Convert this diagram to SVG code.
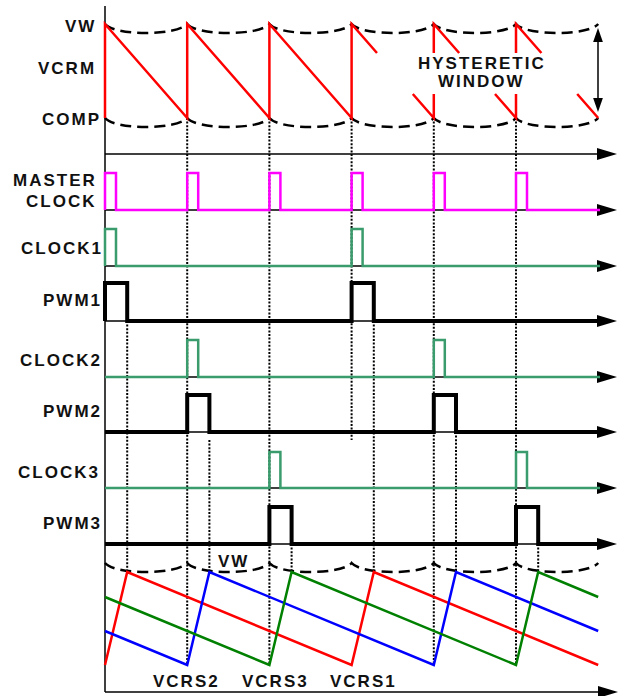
<svg xmlns="http://www.w3.org/2000/svg" width="620" height="696" viewBox="0 0 620 696">
<defs>
<style>
.lbl{font-family:"Liberation Sans",Arial,sans-serif;font-weight:bold;font-size:17px;letter-spacing:2px;fill:#111}
.axis{stroke:#000;stroke-width:1.5;fill:none}
.arr{marker-end:url(#ah)}
.dash{stroke:#000;stroke-width:2.5;fill:none;stroke-dasharray:11 6}
.dot{stroke:#000;stroke-width:2;fill:none;stroke-dasharray:2 1.6}
.red{stroke:#ff0000;stroke-width:2.5;fill:none}
.blue{stroke:#0000ff;stroke-width:2.5;fill:none}
.grn{stroke:#008000;stroke-width:2.5;fill:none}
.mag{stroke:#ff00ff;stroke-width:2.5;fill:none;stroke-linejoin:miter}
.clk{stroke:#3a9c6c;stroke-width:2.5;fill:none;stroke-linejoin:miter}
.pwm{stroke:#000;stroke-width:4;fill:none;stroke-linejoin:miter}
</style>
<marker id="ah" markerUnits="userSpaceOnUse" markerWidth="20" markerHeight="12" refX="3" refY="6" orient="auto" viewBox="0 0 20 12">
<path d="M0,0 L20,6 L0,12 z" fill="#000"/>
</marker>
<marker id="ah2" markerUnits="userSpaceOnUse" markerWidth="14" markerHeight="20" refX="3" refY="7" orient="auto-start-reverse" viewBox="0 0 20 14">
<path d="M0,0 L20,7 L0,14 z" fill="#000"/>
</marker>
</defs>

<g id="labels">
<text class="lbl" x="65" y="32">VW</text>
<text class="lbl" x="38" y="74">VCRM</text>
<text class="lbl" x="42" y="125">COMP</text>
<text class="lbl" x="13" y="186">MASTER</text>
<text class="lbl" x="26" y="207">CLOCK</text>
<text class="lbl" x="21" y="254">CLOCK1</text>
<text class="lbl" x="43" y="306">PWM1</text>
<text class="lbl" x="20" y="366">CLOCK2</text>
<text class="lbl" x="43" y="417">PWM2</text>
<text class="lbl" x="18" y="478">CLOCK3</text>
<text class="lbl" x="43" y="529">PWM3</text>
</g>

<g id="connectors">
<line class="dot" x1="187.2" y1="118" x2="187.2" y2="665"/>
<line class="dot" x1="269.4" y1="118" x2="269.4" y2="665"/>
<line class="dot" x1="351.6" y1="118" x2="351.6" y2="440"/>
<line class="dot" x1="433.8" y1="118" x2="433.8" y2="665"/>
<line class="dot" x1="516" y1="118" x2="516" y2="665"/>
<line class="dot" x1="127.2" y1="321" x2="127.2" y2="572"/>
<line class="dot" x1="209.4" y1="440" x2="209.4" y2="572"/>
<line class="dot" x1="291.6" y1="544" x2="291.6" y2="572"/>
<line class="dot" x1="373.8" y1="321" x2="373.8" y2="572"/>
<line class="dot" x1="456" y1="432" x2="456" y2="572"/>
<line class="dot" x1="538.2" y1="544" x2="538.2" y2="572"/>
</g>

<g id="axes">
<line class="axis" x1="105" y1="6" x2="105" y2="692"/>
<line class="axis arr" x1="105" y1="154" x2="600" y2="154"/>
<line class="axis arr" x1="105" y1="210" x2="600" y2="210"/>
<line class="axis arr" x1="105" y1="266" x2="600" y2="266"/>
<line class="axis arr" x1="105" y1="321" x2="600" y2="321"/>
<line class="axis arr" x1="105" y1="377" x2="600" y2="377"/>
<line class="axis arr" x1="105" y1="432" x2="600" y2="432"/>
<line class="axis arr" x1="105" y1="488" x2="600" y2="488"/>
<line class="axis arr" x1="105" y1="544" x2="600" y2="544"/>
<line class="axis arr" x1="105" y1="692" x2="601" y2="692"/>
</g>

<g id="hysteretic-window">
<path class="dash" d="M105,24 C115,36 177.2,36 187.2,24 C197.2,36 259.4,36 269.4,24 C279.4,36 341.6,36 351.6,24 C361.6,36 423.8,36 433.8,24 C443.8,36 506,36 516,24 C526,36 588.2,36 598.2,24"/>
<path class="dash" d="M105,118 C115,130 177.2,130 187.2,118 C197.2,130 259.4,130 269.4,118 C279.4,130 341.6,130 351.6,118 C361.6,130 423.8,130 433.8,118 C443.8,130 506,130 516,118 C526,130 588.2,130 598.2,118"/>
<line stroke="#000" stroke-width="1.5" x1="598" y1="40" x2="598" y2="100" marker-start="url(#ah2)" marker-end="url(#ah2)"/>
<text class="lbl" x="418" y="69">HYSTERETIC</text>
<text class="lbl" x="438" y="87">WINDOW</text>
</g>

<g id="vcrm">
<path class="red" d="M105,118 L105,24 L187.2,118 L187.2,24 L269.4,118 L269.4,24 L351.6,118 L351.6,24 L377,53 M412.8,94 L433.8,118 L433.8,94 M433.8,53 L433.8,24 L459.2,53 M495,94 L516,118 L516,94 M516,53 L516,24 L541.4,53 M577.2,94 L598.2,118"/>
</g>

<g id="master-clock">
<path class="mag" d="M105,210 V173 H116 V210 H187.2 V173 H198.2 V210 H269.4 V173 H280.4 V210 H351.6 V173 H362.6 V210 H433.8 V173 H444.8 V210 H516 V173 H527 V210 H600"/>
</g>

<g id="clock1">
<path class="clk" d="M105,266 V229 H116 V266 H351.6 V229 H362.6 V266 H600"/>
</g>

<g id="pwm1">
<path class="pwm" d="M105,321 V283 H127.2 V321 H351.6 V283 H373.8 V321 H600"/>
</g>

<g id="clock2">
<path class="clk" d="M105,377 H187.2 V340 H198.2 V377 H433.8 V340 H444.8 V377 H600"/>
</g>

<g id="pwm2">
<path class="pwm" d="M105,432 H187.2 V395 H209.4 V432 H433.8 V395 H456 V432 H600"/>
</g>

<g id="clock3">
<path class="clk" d="M105,488 H269.4 V452 H280.4 V488 H516 V452 H527 V488 H600"/>
</g>

<g id="pwm3">
<path class="pwm" d="M105,544 H269.4 V507 H291.6 V544 H516 V507 H538.2 V544 H600"/>
</g>

<g id="vcrs">
<path class="dash" d="M105,563 C115,575 177.2,575 187.2,563 C197.2,575 259.4,575 269.4,563 C279.4,575 341.6,575 351.6,563 C361.6,575 423.8,575 433.8,563 C443.8,575 506,575 516,563 C526,575 588.2,575 598.2,563"/>
<text class="lbl" x="218" y="567">VW</text>
<path class="red" d="M105,665 L127.2,572 L351.6,665 L373.8,572 L598.2,665"/>
<path class="blue" d="M105,631 L187.2,665 L209.4,572 L433.8,665 L456,572 L598.2,631"/>
<path class="grn" d="M105,597 L269.4,665 L291.6,572 L516,665 L538.2,572 L598.2,597"/>
<text class="lbl" x="153" y="687">VCRS2</text>
<text class="lbl" x="242" y="687">VCRS3</text>
<text class="lbl" x="330" y="687">VCRS1</text>
</g>
</svg>
